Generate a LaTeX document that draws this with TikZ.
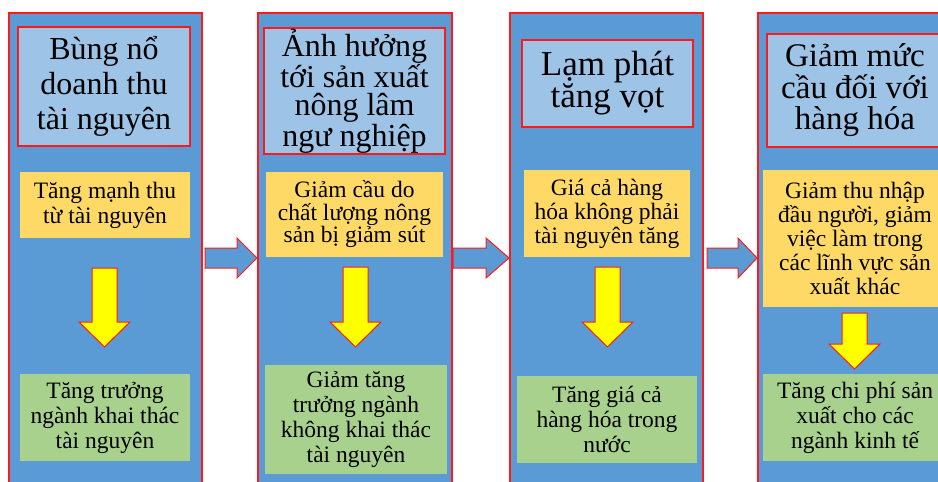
\documentclass[tikz,border=0pt]{standalone}
\usepackage{fontspec}
\setmainfont{Liberation Serif}
\definecolor{colblue}{HTML}{5B9BD5}
\definecolor{titleblue}{HTML}{9DC3E6}
\definecolor{boxyellow}{HTML}{FFD966}
\definecolor{boxgreen}{HTML}{A9D18E}
\definecolor{arrowyellow}{HTML}{FFFF00}
\definecolor{edgered}{HTML}{FF1A1A}
\tikzset{
  column/.style={fill=colblue, draw=edgered, line width=1.3pt, inner sep=0pt},
  titlebox/.style={fill=titleblue, draw=edgered, line width=1.3pt, inner sep=0pt, align=center},
  causebox/.style={fill=boxyellow, inner sep=0pt, align=center, font=\fontsize{23.5}{25}\selectfont},
  effectbox/.style={fill=boxgreen, inner sep=0pt, align=center, font=\fontsize{23.5}{25}\selectfont},
  downarrow/.style={fill=arrowyellow, draw=edgered, line width=1pt, line join=miter},
  sidearrow/.style={fill=colblue, draw=edgered, line width=1pt, line join=miter},
}
\newcommand{\blockdown}[4]{\draw[downarrow] (#1-12.5,#2) -- (#1+12.5,#2) -- (#1+12.5,#3) -- (#1+25.5,#3) -- (#1,#4) -- (#1-25.5,#3) -- (#1-12.5,#3) -- cycle;}
\newcommand{\blockright}[3]{\draw[sidearrow] (#1,248) -- (#2,248) -- (#2,238) -- (#3,258) -- (#2,278) -- (#2,268) -- (#1,268) -- cycle;}
\begin{document}
\begin{tikzpicture}[x=1pt,y=-1pt]
\useasboundingbox (0,0) rectangle (938,482);
\fill[white] (0,0) rectangle (938,482);
\clip (0,0) rectangle (938,482);
% columns
\node[column, minimum width=193pt, minimum height=480pt] (c1) at (105.5,253) {};
\node[column, minimum width=194pt, minimum height=480pt] (c2) at (355,253) {};
\node[column, minimum width=193pt, minimum height=480pt] (c3) at (606.5,253) {};
\node[column, minimum width=200pt, minimum height=480pt] (c4) at (858,253) {};
% side arrows
\blockright{205}{237}{257}
\blockright{453}{486}{509}
\blockright{707}{738}{757}
% column 1
\node[titlebox, minimum width=172pt, minimum height=119pt, font=\fontsize{32}{35}\selectfont] (t1) at (104,86.5) {Bùng nổ\\doanh thu\\tài nguyên};
\node[causebox, minimum width=170pt, minimum height=66pt] (y1) at (105,205) {Tăng mạnh thu\\từ tài nguyên};
\blockdown{104.5}{268}{322}{347}
\node[effectbox, minimum width=170pt, minimum height=87pt] (g1) at (105,417.5) {Tăng trưởng\\ngành khai thác\\tài nguyên};
% column 2
\node[titlebox, minimum width=181pt, minimum height=126pt, font=\fontsize{32}{28.5}\selectfont] (t2) at (354.5,91) {Ảnh hưởng\\tới sản xuất\\nông lâm\\ngư nghiệp};
\node[causebox, minimum width=177pt, minimum height=85pt, font=\fontsize{23.5}{22.5}\selectfont] (y2) at (354.5,214.5) {Giảm cầu do\\chất lượng nông\\sản bị giảm sút};
\blockdown{355.5}{267}{322}{347}
\node[effectbox, minimum width=182pt, minimum height=109pt] (g2) at (356,419.5) {Giảm tăng\\trưởng ngành\\không khai thác\\tài nguyên};
% column 3
\node[titlebox, minimum width=171pt, minimum height=87pt, font=\fontsize{35}{32}\selectfont] (t3) at (607.5,83.5) {Lạm phát\\tăng vọt};
\node[causebox, minimum width=166pt, minimum height=87pt, font=\fontsize{23.5}{24}\selectfont] (y3) at (607,213.5) {Giá cả hàng\\hóa không phải\\tài nguyên tăng};
\blockdown{607.5}{267}{322}{347}
\node[effectbox, minimum width=180pt, minimum height=87pt] (g3) at (607,419.5) {Tăng giá cả\\hàng hóa trong\\nước};
% column 4
\node[titlebox, minimum width=176pt, minimum height=113pt, font=\fontsize{33}{31.5}\selectfont] (t4) at (855,90.5) {Giảm mức\\cầu đối với\\hàng hóa};
\node[causebox, minimum width=184pt, minimum height=137pt, font=\fontsize{23.5}{24}\selectfont] (y4) at (855,238.5) {Giảm thu nhập\\đầu người, giảm\\việc làm trong\\các lĩnh vực sản\\xuất khác};
\blockdown{854.5}{313}{344}{369}
\node[effectbox, minimum width=184pt, minimum height=87pt] (g4) at (855,417.5) {Tăng chi phí sản\\xuất cho các\\ngành kinh tế};
\end{tikzpicture}
\end{document}
